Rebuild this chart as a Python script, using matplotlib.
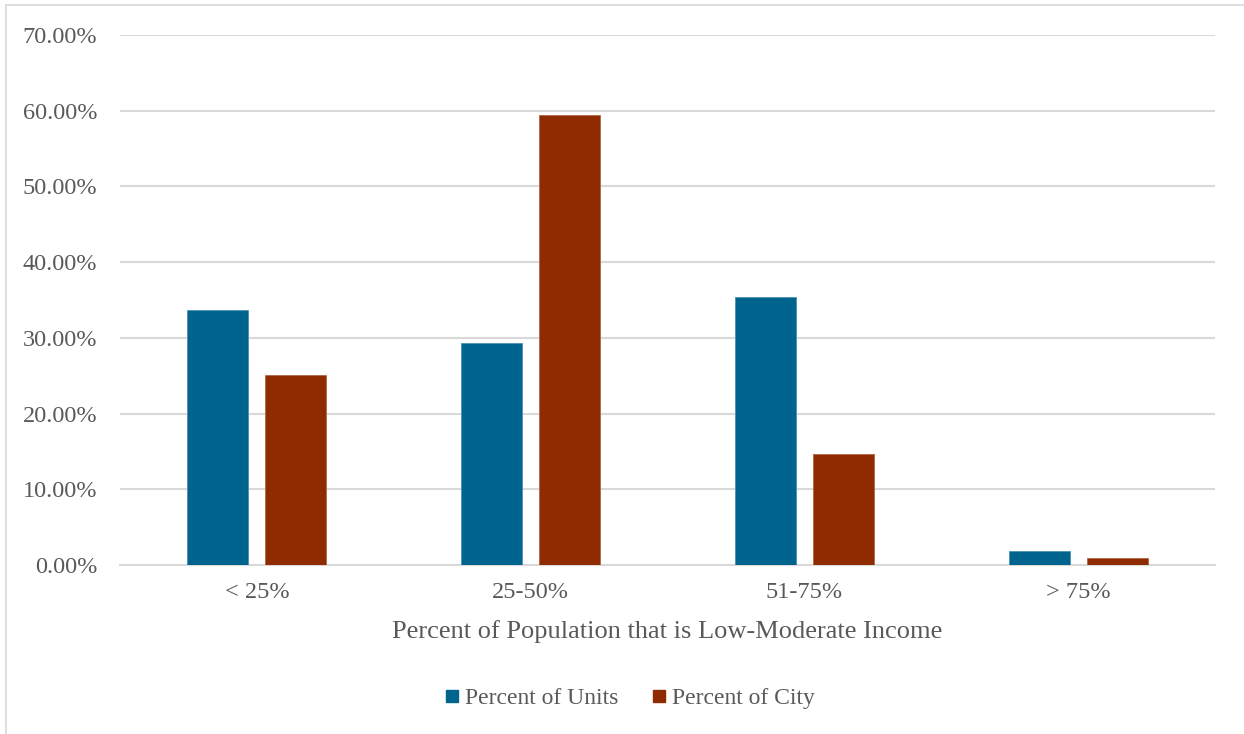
import matplotlib
matplotlib.use("Agg")
import matplotlib.pyplot as plt
import numpy as np
from matplotlib.lines import Line2D
from matplotlib.ticker import FuncFormatter, MultipleLocator

categories = ["< 25%", "25-50%", "51-75%", "> 75%"]
series_names = ["Percent of Units", "Percent of City"]
units_pct = [33.7, 29.3, 35.4, 1.85]
city_pct = [25.1, 59.4, 14.7, 0.92]
colors = ["#00648F", "#8F2B00"]
xlabel = "Percent of Population that is Low-Moderate Income"

plt.rcParams["font.family"] = ["Liberation Serif", "DejaVu Serif"]

W, H = 1244, 734
fig = plt.figure(figsize=(W / 100, H / 100), dpi=100)
ax = fig.add_axes([120 / W, 169 / H, 1095 / W, 530 / H])

x = np.arange(len(categories))
bw = 61 / 273.75
off = 0.5 * (61 + 17) / 273.75
ax.bar(x - off, units_pct, width=bw, color=colors[0], zorder=3,
       edgecolor="#4a93b3", linewidth=0.6)
ax.bar(x + off, city_pct, width=bw, color=colors[1], zorder=3,
       edgecolor="#b0674a", linewidth=0.6)

ax.set_xlim(-0.5, 3.5)
ax.set_ylim(0, 70)
ax.yaxis.set_major_locator(MultipleLocator(10))
ax.yaxis.set_major_formatter(FuncFormatter(lambda v, p: f"{v:.2f}%"))
ax.grid(axis="y", color="#D9D9D9", linewidth=1.5, zorder=0)
for s in ["top", "right", "left"]:
    ax.spines[s].set_visible(False)
ax.spines["bottom"].set_color("#D9D9D9")
ax.spines["bottom"].set_linewidth(1.5)
ax.set_xticks(x)
ax.set_xticklabels(categories)
ax.tick_params(axis="both", length=0, labelsize=17.5, labelcolor="#595959")
ax.tick_params(axis="y", pad=16.5)
ax.tick_params(axis="x", pad=12.5)
ax.set_xlabel(xlabel, fontsize=19, color="#595959", labelpad=12)

handles = [Line2D([], [], marker="s", linestyle="none", markersize=8.5,
                  markerfacecolor=c, markeredgecolor=c) for c in colors]
fig.legend(handles, series_names, loc="center", bbox_to_anchor=(630 / W, 1 - 698 / H),
           ncol=2, frameon=False, fontsize=17, labelcolor="#595959",
           handlelength=0.6, handletextpad=0.25, columnspacing=1.4)

# chart area border (top and left visible)
fig.add_artist(Line2D([6 / W, 1.0], [1 - 5 / H, 1 - 5 / H], color="#D9D9D9",
                      linewidth=1.2, transform=fig.transFigure))
fig.add_artist(Line2D([6 / W, 6 / W], [0, 1 - 5 / H], color="#D9D9D9",
                      linewidth=1.2, transform=fig.transFigure))

fig.savefig("out.png", dpi=100)
